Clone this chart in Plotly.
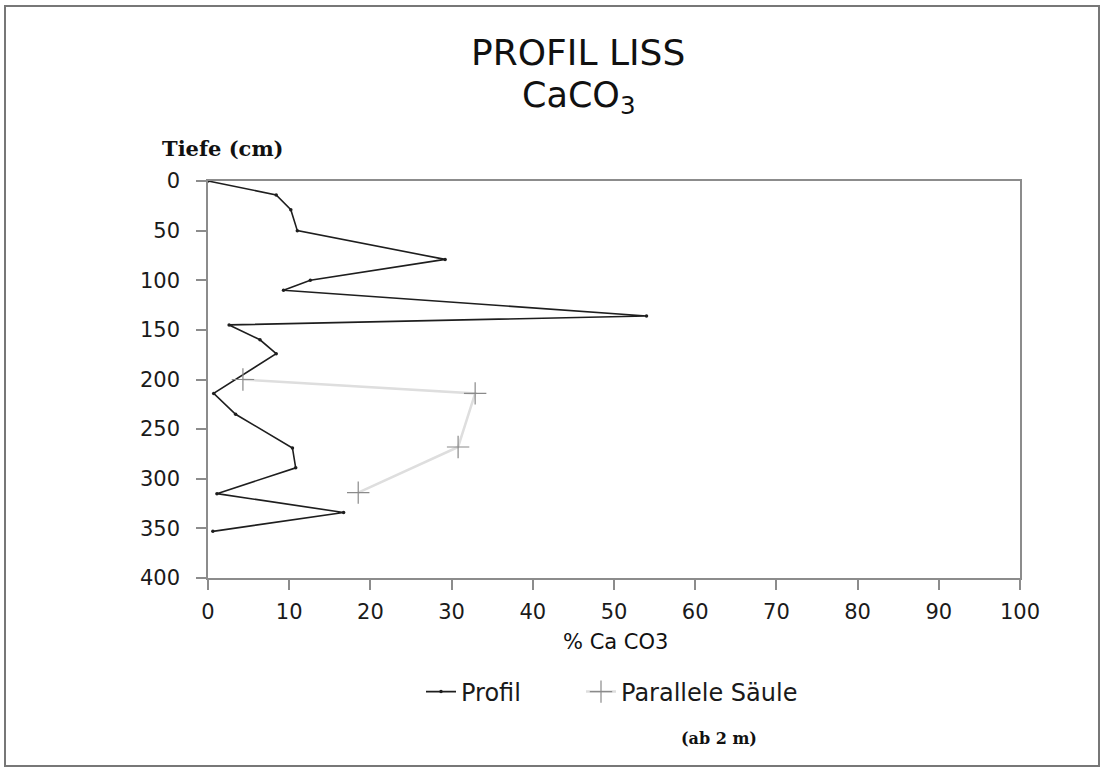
import plotly.graph_objects as go

# Data
profil_ca = [0, 8.4, 10.2, 11.0, 29.2, 12.6, 9.3, 54.0, 2.6, 6.4, 8.4, 0.7, 3.4, 10.4, 10.8, 1.1, 16.7, 0.6]
profil_depth = [0, 14, 29, 50, 79, 100, 110, 136, 145, 160, 174, 214, 235, 269, 289, 315, 334, 353]

saeule_ca = [4.3, 32.9, 30.8, 18.5]
saeule_depth = [200, 214, 268, 314]

x_ticks = list(range(0, 101, 10))
y_ticks = list(range(0, 401, 50))

W, H = 1103, 770
L, R, T, B = 208, 83, 181, 192
pw, ph = W - L - R, H - T - B


def px(x):
    return (x - L) / pw


def py(y):
    return (H - B - y) / ph


SANS = "DejaVu Sans, Verdana, sans-serif"
SERIF = "DejaVu Serif, Liberation Serif, serif"

fig = go.Figure()
fig.add_trace(go.Scatter(
    x=profil_ca, y=profil_depth, mode="lines+markers", name="Profil",
    line=dict(color="#1e1e1e", width=1.6),
    marker=dict(symbol="circle", size=3.5, color="#1e1e1e"),
    legend="legend",
))
fig.add_trace(go.Scatter(
    x=saeule_ca, y=saeule_depth, mode="lines+markers", name="Parallele Säule",
    line=dict(color="#dedede", width=2.5),
    marker=dict(symbol="cross-thin", size=16, line=dict(color="#8a8a8a", width=1.2)),
    legend="legend2",
))

axis_common = dict(ticks="outside", ticklen=10, tickcolor="#8c8c8c", tickwidth=1.5,
                   showline=True, linecolor="#8c8c8c", linewidth=1.5, mirror=True,
                   showgrid=False, zeroline=False,
                   tickfont=dict(size=21, family=SANS, color="#1a1a1a"))

legend_font = dict(size=24, family=SANS, color="#1a1a1a")

fig.update_layout(
    width=W, height=H,
    margin=dict(l=L, r=R, t=T, b=B),
    paper_bgcolor="white", plot_bgcolor="white",
    font=dict(family=SANS, color="#1a1a1a"),
    showlegend=True,
    legend=dict(orientation="h", x=px(421), y=py(692), xanchor="left", yanchor="middle",
                font=legend_font, bgcolor="rgba(0,0,0,0)"),
    legend2=dict(orientation="h", x=px(581), y=py(692), xanchor="left", yanchor="middle",
                 font=legend_font, bgcolor="rgba(0,0,0,0)"),
    xaxis=dict(range=[0, 100], tickvals=x_ticks, ticklabelstandoff=4, **axis_common),
    yaxis=dict(range=[400, 0], tickvals=y_ticks, ticklabelstandoff=12, **axis_common),
)


def ann(text, x, y, size, family=SANS):
    fig.add_annotation(text=text, x=px(x), y=py(y), xref="paper", yref="paper",
                       xanchor="center", yanchor="middle", showarrow=False,
                       font=dict(size=size, family=family, color="#111111"))


ann("PROFIL LISS", 578, 52, 36)
ann("CaCO<sub>3</sub>", 578, 98, 35)
ann("% Ca CO3", 615, 642, 21)
ann("<b>Tiefe (cm)</b>", 223, 148, 21, SERIF)
ann("<b>(ab 2 m)</b>", 719, 738, 16, SERIF)

# Outer page frame
fig.add_shape(type="rect", xref="paper", yref="paper",
              x0=px(5), x1=px(1099), y0=py(766), y1=py(6),
              line=dict(color="#777777", width=2), layer="below")

fig.write_html("out.html", config={"displayModeBar": False},
               post_script="document.body.style.margin='0';document.body.style.overflow='hidden';")
